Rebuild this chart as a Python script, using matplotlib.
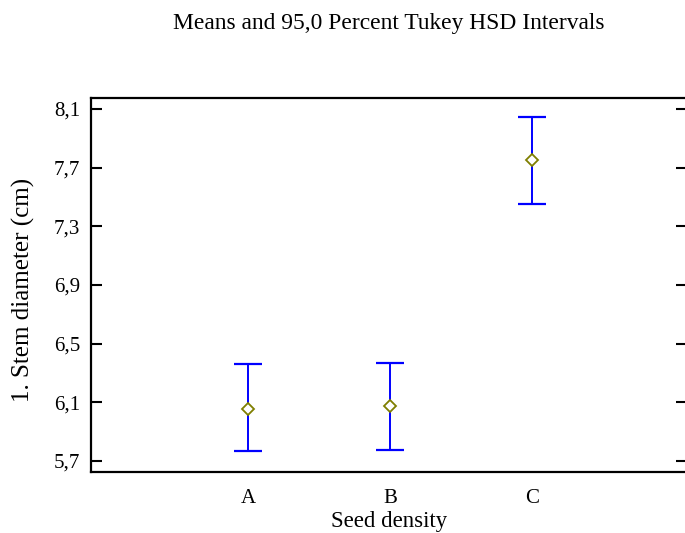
import matplotlib
matplotlib.use("Agg")
import matplotlib.pyplot as plt
from matplotlib.ticker import FixedLocator, FuncFormatter

categories = ["A", "B", "C"]
means = [6.053, 6.077, 7.75]
lower = [5.766, 5.777, 7.45]
upper = [6.359, 6.37, 8.048]
yticks = [5.7, 6.1, 6.5, 6.9, 7.3, 7.7, 8.1]

plt.rcParams['font.family'] = ['Liberation Serif', 'DejaVu Serif']

fig = plt.figure(figsize=(6.85, 5.33), dpi=100)
W, H = 685, 533
left, right, top, bottom = 91, 687, 98, 472
ax = fig.add_axes([left / W, 1 - bottom / H, (right - left) / W, (bottom - top) / H])

x = list(range(len(categories)))
yerr = [[m - l for m, l in zip(means, lower)], [u - m for m, u in zip(means, upper)]]
ax.errorbar(x, means, yerr=yerr, fmt='none', ecolor='#0000ff', elinewidth=1.4,
            capsize=10, capthick=1.6, zorder=2)
ax.plot(x, means, linestyle='none', marker='D', markersize=6.3, markerfacecolor='white',
        markeredgecolor='#7f7f00', markeredgewidth=1.3, zorder=3)

ax.set_xlim(-1.11, 3.095)
ax.set_ylim(5.625, 8.175)
ax.set_xticks(x)
ax.set_xticklabels(categories)
ax.yaxis.set_major_locator(FixedLocator(yticks))
ax.yaxis.set_major_formatter(FuncFormatter(lambda v, p: f"{v:.1f}".replace('.', ',')))

ax.tick_params(axis='x', length=0, labelsize=15, pad=12)
ax.tick_params(axis='y', direction='in', length=8, width=1.5, labelsize=15, pad=8,
               right=True, left=True)

for s in ['left', 'bottom', 'top', 'right']:
    ax.spines[s].set_linewidth(1.6)

fig.text(389 / W, 1 - 522 / H, "Seed density", ha='center', va='center', fontsize=16.4)
fig.text(23 / W, 1 - 290 / H, "1. Stem diameter (cm)", ha='center', va='center',
         rotation=90, fontsize=18)
fig.text(389 / W, 1 - 23 / H, "Means and 95,0 Percent Tukey HSD Intervals",
         ha='center', va='center', fontsize=16.9)

fig.savefig("out.png", dpi=100)
